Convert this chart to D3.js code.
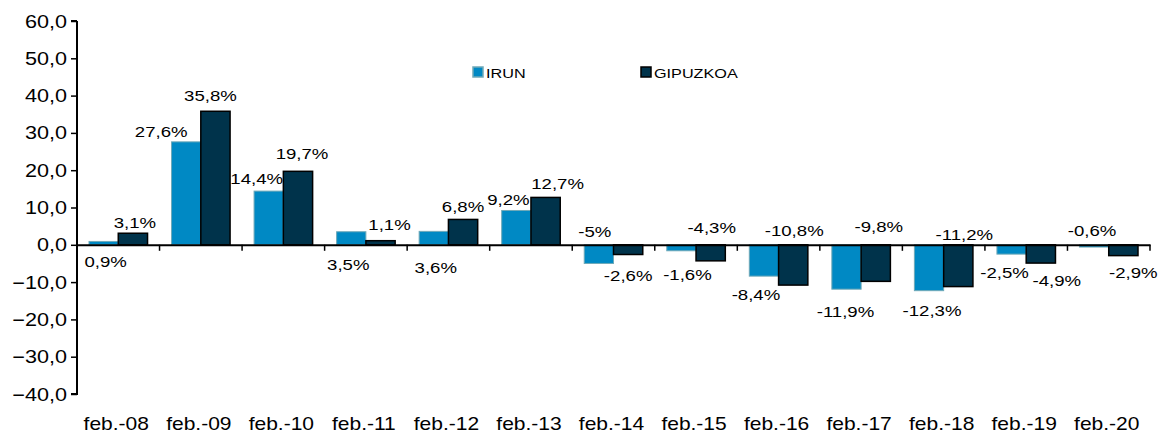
<!DOCTYPE html>
<html>
<head>
<meta charset="utf-8">
<script src="https://cdn.jsdelivr.net/npm/d3@7"></script>
<style>
  body { margin: 0; background: #fff; }
  text { font-family: "Liberation Sans", Arial, sans-serif; fill: #000; }
</style>
</head>
<body>
<div id="main"></div>
<script>
// chart data
const categories = ['feb.-08', 'feb.-09', 'feb.-10', 'feb.-11', 'feb.-12', 'feb.-13', 'feb.-14',
  'feb.-15', 'feb.-16', 'feb.-17', 'feb.-18', 'feb.-19', 'feb.-20'];
const seriesNames = ['IRUN', 'GIPUZKOA'];
const irun = [0.9, 27.6, 14.4, 3.5, 3.6, 9.2, -5, -1.6, -8.4, -11.9, -12.3, -2.5, -0.6];
const gipuzkoa = [3.1, 35.8, 19.7, 1.1, 6.8, 12.7, -2.6, -4.3, -10.8, -9.8, -11.2, -4.9, -2.9];
const yTicks = [60, 50, 40, 30, 20, 10, 0, -10, -20, -30, -40];
const irunLabels = ['0,9%', '27,6%', '14,4%', '3,5%', '3,6%', '9,2%', '-5%', '-1,6%', '-8,4%', '-11,9%', '-12,3%', '-2,5%', '-0,6%'];
const gipuzkoaLabels = ['3,1%', '35,8%', '19,7%', '1,1%', '6,8%', '12,7%', '-2,6%', '-4,3%', '-10,8%', '-9,8%', '-11,2%', '-4,9%', '-2,9%'];

// hand placed label offsets (px) from the end of each bar, like the original
const irunOffsets = [[2, 26], [-25, -5], [-12, -7], [-3, 38], [2, 42], [-8, -5], [-4, -26],
  [6, 29], [-8, 24], [-1, 28], [3, 25], [-7, 24], [-2, -11]];
const gipuzkoaOffsets = [[2, -5], [-5, -10], [4, -12], [9, -11], [0, -7], [12, -8], [0, 27],
  [1, -28], [1, -49], [3, -49], [6, -47], [16, 23], [10, 22]];

const colors = { IRUN: '#0089C4', GIPUZKOA: '#00334B' };
const strokes = { IRUN: '#6FA9B8', GIPUZKOA: '#000' };
const stretch = 1.2; // text in the picture is a little wide

const width = 1159, height = 434;
const svg = d3.select('#main').append('svg')
  .attr('width', width)
  .attr('height', height);

const x = d3.scaleBand()
  .domain(categories)
  .range([77, 1150])
  .paddingInner(0)
  .paddingOuter(0);

const xSub = d3.scaleBand()
  .domain(seriesNames)
  .range([0, x.bandwidth()])
  .paddingInner(0)
  .paddingOuter(0.41);

const y = d3.scaleLinear()
  .domain([-40, 60])
  .range([394, 21]);

function wideText(sel, tx, ty) {
  return sel.attr('transform', (d, i) => `translate(${tx(d, i)},${ty(d, i)}) scale(${stretch},1)`);
}

// bars
const series = [
  { name: 'IRUN', values: irun, labels: irunLabels, offsets: irunOffsets },
  { name: 'GIPUZKOA', values: gipuzkoa, labels: gipuzkoaLabels, offsets: gipuzkoaOffsets }
];

series.forEach(s => {
  svg.append('g').selectAll('rect')
    .data(s.values)
    .join('rect')
      .attr('x', (d, i) => x(categories[i]) + xSub(s.name))
      .attr('y', d => y(Math.max(0, d)))
      .attr('width', xSub.bandwidth())
      .attr('height', d => Math.abs(y(d) - y(0)))
      .attr('fill', colors[s.name])
      .attr('stroke', strokes[s.name])
      .attr('stroke-width', s.name === 'IRUN' ? 1 : 1.5);
});

// axes
const yAxis = svg.append('g')
  .attr('transform', 'translate(77,0)')
  .call(d3.axisLeft(y).tickValues(yTicks).tickSize(6).tickFormat(''));
yAxis.select('.domain').attr('stroke', '#000').attr('stroke-width', 2).attr('d', `M0,${y(60)}V${y(-40)}H-6M-6,${y(60)}H0`);
yAxis.selectAll('.tick line').attr('stroke', '#000').attr('stroke-width', 1.5);

svg.append('g').selectAll('text')
  .data(yTicks)
  .join('text')
    .call(wideText, () => 67, d => y(d) + 6.5)
    .attr('text-anchor', 'end')
    .style('font-size', '18px')
    .text(d => d3.format('.1f')(d).replace('.', ','));

const xAxis = svg.append('g')
  .attr('transform', `translate(0,${y(0)})`)
  .call(d3.axisBottom(x).tickSize(0).tickFormat(''));
xAxis.select('.domain').attr('stroke', '#000').attr('stroke-width', 2);

svg.append('g').selectAll('line')
  .data(categories.slice(1).concat(['end']))
  .join('line')
    .attr('x1', d => d === 'end' ? x.range()[1] : x(d))
    .attr('x2', d => d === 'end' ? x.range()[1] : x(d))
    .attr('y1', y(0))
    .attr('y2', y(0) + 6)
    .attr('stroke', '#000')
    .attr('stroke-width', 1.5);

svg.append('g').selectAll('text')
  .data(categories)
  .join('text')
    .call(wideText, d => x(d) + x.bandwidth() / 2 - 2, () => 429.5)
    .attr('text-anchor', 'middle')
    .style('font-size', '17.5px')
    .text(d => d);

// data labels
series.forEach(s => {
  svg.append('g').selectAll('text')
    .data(s.values)
    .join('text')
      .call(wideText,
        (d, i) => x(categories[i]) + xSub(s.name) + xSub.bandwidth() / 2 + s.offsets[i][0],
        (d, i) => y(d) + s.offsets[i][1])
      .attr('text-anchor', 'middle')
      .style('font-size', '15.5px')
      .text((d, i) => s.labels[i]);
});

// legend
const legendX = { IRUN: 473, GIPUZKOA: 641 };
const legend = svg.append('g').selectAll('g')
  .data(seriesNames)
  .join('g')
    .attr('transform', d => `translate(${legendX[d]},67)`);
legend.append('rect')
  .attr('width', 10)
  .attr('height', 10)
  .attr('fill', d => colors[d])
  .attr('stroke', d => d === 'IRUN' ? '#6FA9B8' : '#000')
  .attr('stroke-width', 1.5);
legend.append('text')
  .attr('transform', `translate(13,10.5) scale(${stretch},1)`)
  .style('font-size', '13.5px')
  .text(d => d);
</script>
</body>
</html>
